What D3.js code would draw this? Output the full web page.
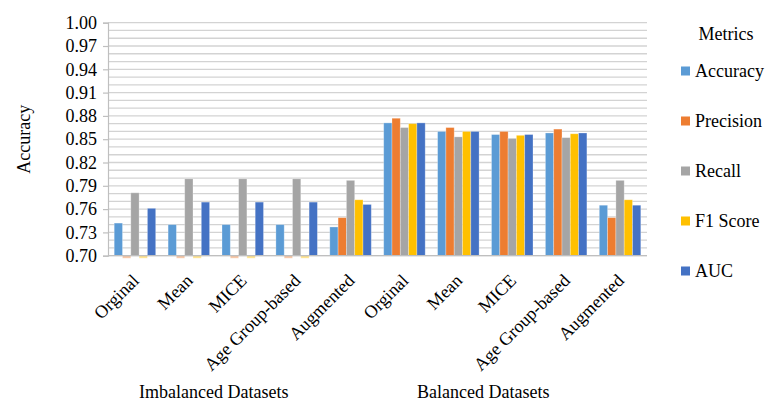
<!DOCTYPE html>
<html>
<head>
<meta charset="utf-8">
<script src="https://cdn.jsdelivr.net/npm/d3@7/dist/d3.min.js"></script>
<style>
  html, body { margin: 0; padding: 0; background: #fff; }
  svg { display: block; }
  text { font-family: "Liberation Serif", "Times New Roman", serif; fill: #000; }
</style>
</head>
<body>
<svg id="chart" width="766" height="402"></svg>
<script>
// Dataset groups and imputation methods along the x axis
const datasets = ["Imbalanced Datasets", "Balanced Datasets"];
const methods = ["Orginal", "Mean", "MICE", "Age Group-based", "Augmented"];

// Metric series, one value per (dataset, method) pair
const metrics = ["Accuracy", "Precision", "Recall", "F1 Score", "AUC"];
const accuracy  = [0.742, 0.740, 0.740, 0.740, 0.737, 0.871, 0.860, 0.856, 0.858, 0.765];
const precision = [0.000, 0.000, 0.000, 0.000, 0.749, 0.877, 0.865, 0.860, 0.863, 0.749];
const recall    = [0.781, 0.799, 0.799, 0.799, 0.797, 0.865, 0.853, 0.851, 0.852, 0.797];
const f1Score   = [0.000, 0.000, 0.000, 0.000, 0.772, 0.870, 0.860, 0.855, 0.857, 0.772];
const auc       = [0.761, 0.769, 0.769, 0.769, 0.766, 0.871, 0.860, 0.856, 0.858, 0.765];

const yTicks = [0.70, 0.73, 0.76, 0.79, 0.82, 0.85, 0.88, 0.91, 0.94, 0.97, 1.00];
const yTitle = "Accuracy";
const legendTitle = "Metrics";

const series = [accuracy, precision, recall, f1Score, auc];
const colors = ["#5B9BD5", "#ED7D31", "#A5A5A5", "#FFC000", "#4472C4"];

const categories = [];
datasets.forEach((ds, di) => methods.forEach((m, mi) => categories.push({ key: di + "-" + mi, ds, di, method: m })));

const svg = d3.select("#chart");
const plotLeft = 108, plotRight = 647, plotTop = 22.7, plotBottom = 255.7;

const y = d3.scaleLinear().domain([0.70, 1.00]).range([plotBottom, plotTop]);
const x0 = d3.scaleBand().domain(categories.map(c => c.key)).range([plotLeft, plotRight]).padding(0);
const x1 = d3.scaleBand().domain(metrics).range([0, x0.bandwidth()]).paddingInner(0).paddingOuter(0.747);

// Horizontal gridlines every 0.01
const gridVals = d3.range(70, 101).map(d => d / 100);
svg.append("g").selectAll("line").data(gridVals).join("line")
  .attr("x1", plotLeft).attr("x2", plotRight)
  .attr("y1", d => y(d)).attr("y2", d => y(d))
  .attr("stroke", "#d3d3d3").attr("stroke-width", 1.3);

// Y axis
const yAxis = d3.axisLeft(y).tickValues(yTicks).tickFormat(d3.format(".2f")).tickSize(5).tickPadding(6);
const gy = svg.append("g").attr("transform", `translate(${plotLeft},0)`).call(yAxis);
gy.select(".domain").attr("stroke", "#bfbfbf").attr("stroke-width", 1.2);
gy.selectAll(".tick line").attr("stroke", "#bfbfbf").attr("stroke-width", 1.2);
gy.selectAll(".tick text").attr("font-size", 18).attr("dy", "0.32em")
  .style("font-family", '"Liberation Serif", "Times New Roman", serif').attr("fill", "#000");

// Bars (values below the axis minimum show as a short faded stub)
const yMin = y.domain()[0];
const barData = [];
categories.forEach((c, ci) => metrics.forEach((m, mi) => barData.push({ c, m, mi, v: series[mi][ci] })));
svg.append("g").selectAll("rect").data(barData).join("rect")
  .attr("x", d => x0(d.c.key) + x1(d.m))
  .attr("width", x1.bandwidth())
  .attr("y", d => d.v >= yMin ? y(d.v) : y(yMin))
  .attr("height", d => d.v >= yMin ? y(yMin) - y(d.v) : 2.5)
  .attr("fill", d => colors[d.mi])
  .attr("opacity", d => d.v >= yMin ? 1 : 0.45)
  .attr("stroke", "rgba(255,255,255,0.35)").attr("stroke-width", 0.8);

// Bottom axis line
svg.append("line").attr("x1", plotLeft).attr("x2", plotRight).attr("y1", plotBottom).attr("y2", plotBottom)
  .attr("stroke", "#bfbfbf").attr("stroke-width", 1.3);

// Rotated method labels
svg.append("g").selectAll("text").data(categories).join("text")
  .attr("transform", d => `translate(${x0(d.key) + x0.bandwidth() / 2 + 5},${plotBottom + 26}) rotate(-45)`)
  .attr("text-anchor", "end").attr("font-size", 18)
  .text(d => d.method);

// Dataset group labels
const half = (plotRight - plotLeft) / datasets.length;
svg.append("g").selectAll("text").data(datasets).join("text")
  .attr("x", (d, i) => plotLeft + half * i + half / 2 - 29)
  .attr("y", 398)
  .attr("text-anchor", "middle").attr("font-size", 18)
  .text(d => d);

// Y axis title
svg.append("text")
  .attr("transform", `translate(30,${(plotTop + plotBottom) / 2}) rotate(-90)`)
  .attr("text-anchor", "middle").attr("font-size", 18)
  .text(yTitle);

// Legend
svg.append("text").attr("x", 726).attr("y", 40).attr("text-anchor", "middle").attr("font-size", 18).text(legendTitle);
const lg = svg.append("g").selectAll("g").data(metrics).join("g")
  .attr("transform", (d, i) => `translate(681,${71 + i * 50})`);
lg.append("rect").attr("x", 0).attr("y", -4.5).attr("width", 9).attr("height", 9).attr("fill", (d, i) => colors[i]);
lg.append("text").attr("x", 14).attr("y", 6).attr("font-size", 18).text(d => d);
</script>
</body>
</html>
